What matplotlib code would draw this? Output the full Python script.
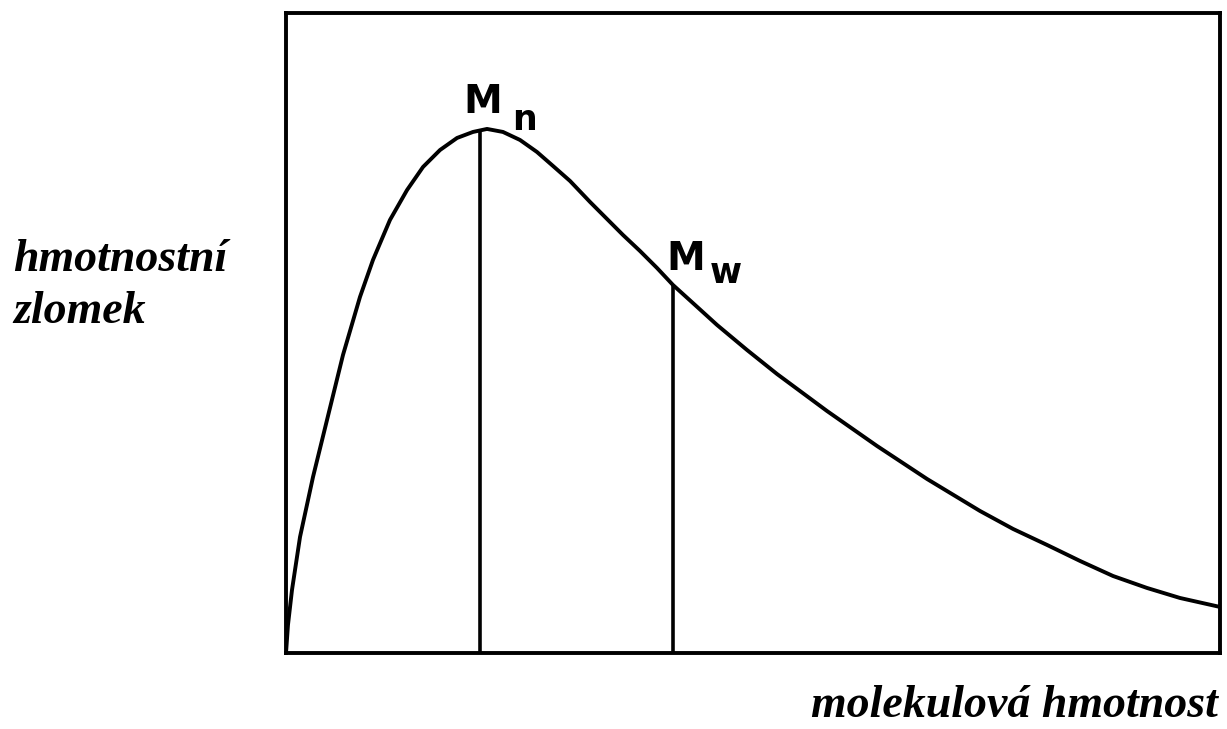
import matplotlib.pyplot as plt

# rozdeleni molekulovych hmotnosti (libovolne jednotky 0-100)
mol_hmotnost = [0, 0.21, 0.64, 1.50, 2.89, 4.39, 6.10, 7.92, 9.31, 11.13, 12.96,
                14.67, 16.49, 18.31, 20.02, 21.52, 23.23, 25.05, 26.87, 28.59, 30.41,
                32.55, 34.37, 36.08, 37.90, 39.72, 41.43, 43.79, 46.15, 49.36, 52.57,
                57.92, 63.28, 68.63, 74.30, 77.84, 81.48, 85.01, 88.54, 92.18, 95.72, 100]
hmot_zlomek = [0, 4.38, 9.84, 18.13, 27.50, 36.41, 46.56, 55.63, 61.41, 67.66, 72.34,
               75.94, 78.59, 80.47, 81.41, 81.88, 81.41, 80.16, 78.28, 76.09, 73.75,
               70.47, 67.81, 65.31, 62.81, 60.16, 57.50, 54.38, 51.25, 47.34, 43.59,
               37.81, 32.34, 27.19, 22.19, 19.38, 16.88, 14.38, 12.03, 10.16, 8.59, 7.19]

# polohy Mn a Mw
prumery_x = [20.77, 41.43]
prumery_y = [81.6, 57.5]
prumery_znak = ['n', 'w']

# umisteni popisku (M a dolni index)
popisek_m = [(19.0, 84.4), (40.7, 59.8)]
popisek_index = [(24.2, 81.7), (45.4, 57.8)]

fig = plt.figure(figsize=(12.27, 7.29), dpi=100)
ax = fig.add_axes([0.2331, 0.1043, 0.7612, 0.8779])

ax.plot(mol_hmotnost, hmot_zlomek, color='black', lw=2.8,
        solid_joinstyle='round', solid_capstyle='round')
ax.vlines(prumery_x, 0, prumery_y, color='black', lw=2.6)

ax.set_xlim(0, 100)
ax.set_ylim(0, 100)
ax.set_xticks([])
ax.set_yticks([])
for s in ax.spines.values():
    s.set_linewidth(2.8)

for (mx, my), (ix, iy), znak in zip(popisek_m, popisek_index, prumery_znak):
    ax.text(mx, my, 'M', fontsize=28, family='DejaVu Sans', weight='bold',
            ha='left', va='baseline')
    ax.text(ix, iy, znak, fontsize=25, family='DejaVu Sans', weight='bold',
            ha='left', va='baseline')

serif = dict(family='Liberation Serif', weight='bold', style='italic', fontsize=33)
fig.text(13 / 1227, 1 - 271 / 729, 'hmotnostní', ha='left', va='baseline', **serif)
fig.text(13 / 1227, 1 - 323 / 729, 'zlomek', ha='left', va='baseline', **serif)
fig.text(1218 / 1227, 1 - 717 / 729, 'molekulová hmotnost', ha='right', va='baseline', **serif)

fig.savefig('out.png', dpi=100)
